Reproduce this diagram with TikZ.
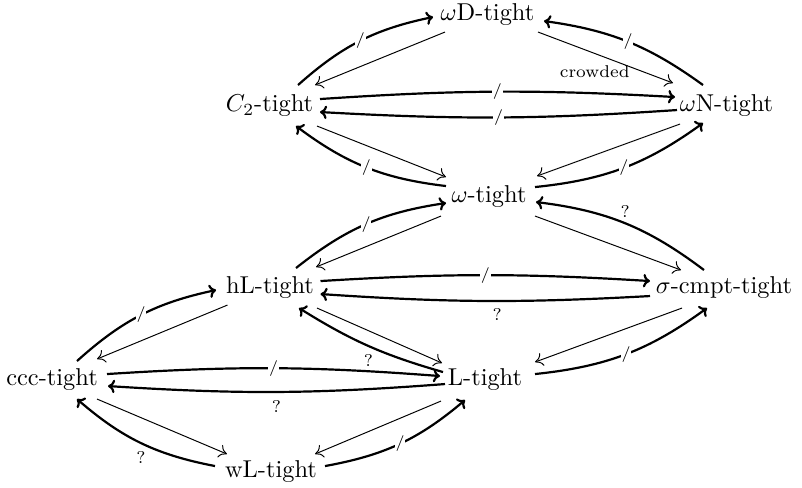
\documentclass[tikz,border=0pt]{standalone}
\usepackage{fontspec}
\usetikzlibrary{arrows.meta}
\begin{document}
\begin{tikzpicture}[x=0.41pt,y=0.41pt,
  ent/.style={inner sep=0pt,anchor=base},
  imp/.style={line width=0.4pt,-{To[length=3.2pt,width=5.5pt]}},
  nimp/.style={line width=0.9pt,-{To[length=2.8pt,width=5.5pt]}},
  sl/.style={fill=white,inner sep=0.3pt,font=\fontsize{6.5}{7}\selectfont},
  qm/.style={inner sep=0pt,font=\scriptsize}]
\useasboundingbox (0,0) rectangle (802,-488);
\node[ent] (wD) at (487.5,-21) {$\omega$D-tight};
\node[ent] (C2) at (269.5,-112) {$C_2$-tight};
\node[ent] (wN) at (726.5,-112) {$\omega$N-tight};
\node[ent] (w) at (489,-203) {$\omega$-tight};
\node[ent] (hL) at (270,-294) {hL-tight};
\node[ent] (s) at (724,-294) {$\sigma$-cmpt-tight};
\node[ent] (ccc) at (52,-386) {ccc-tight};
\node[ent] (L) at (485,-386) {L-tight};
\node[ent] (wL) at (271,-477) {wL-tight};
% upper rhombus
\draw[nimp] ([shift={(28.5,21)}]C2.center) to[bend left=15] node[sl]{/} ([shift={(-54.5,-2)}]wD.center);
\draw[imp] ([shift={(-42.5,-17)}]wD.center) -- ([shift={(45.5,21)}]C2.center);
\draw[nimp] ([shift={(-23.5,21)}]wN.center) to[bend right=14] node[sl]{/} ([shift={(56.5,-6)}]wD.center);
\draw[imp] ([shift={(50.5,-17)}]wD.center) -- node[qm,pos=0.42,below=5pt]{crowded} ([shift={(-53.5,23)}]wN.center);
\draw[nimp] ([shift={(50.5,7)}]C2.center) to[bend left=3.5] node[sl]{/} ([shift={(-51.5,9)}]wN.center);
\draw[nimp] ([shift={(-49.5,-4)}]wN.center) to[bend left=3.5] node[sl]{/} ([shift={(50.5,-6)}]C2.center);
\draw[imp] ([shift={(47.5,-20)}]C2.center) -- ([shift={(-43,20)}]w.center);
\draw[nimp] ([shift={(-43,11)}]w.center) to[bend left=15] node[sl]{/} ([shift={(26.5,-20)}]C2.center);
\draw[imp] ([shift={(-46.5,-18)}]wN.center) -- ([shift={(48,21)}]w.center);
\draw[nimp] ([shift={(46,10)}]w.center) to[bend right=15] node[sl]{/} ([shift={(-23.5,-17)}]wN.center);
% middle rhombus
\draw[nimp] ([shift={(26,20)}]hL.center) to[bend left=15] node[sl]{/} ([shift={(-43,-6)}]w.center);
\draw[imp] ([shift={(-48,-19)}]w.center) -- ([shift={(46,21)}]hL.center);
\draw[nimp] ([shift={(-20,18)}]s.center) to[bend right=15] node[qm,above=2pt]{?} ([shift={(47,-5)}]w.center);
\draw[imp] ([shift={(46,-19)}]w.center) -- ([shift={(-43,18)}]s.center);
\draw[nimp] ([shift={(50.5,7)}]hL.center) to[bend left=3.5] node[sl]{/} ([shift={(-74,7)}]s.center);
\draw[nimp] ([shift={(-74,-8)}]s.center) to[bend left=3.5] node[qm,pos=0.46,below=2.5pt]{?} ([shift={(50.5,-6)}]hL.center);
\draw[imp] ([shift={(47,-20)}]hL.center) -- ([shift={(-43,17)}]L.center);
\draw[nimp] ([shift={(-42,8)}]L.center) to[bend left=8] node[qm,below=3pt]{?} ([shift={(29,-20)}]hL.center);
\draw[imp] ([shift={(-42,-20)}]s.center) -- ([shift={(50,18)}]L.center);
\draw[nimp] ([shift={(50,6)}]L.center) to[bend right=15] node[sl]{/} ([shift={(-17,-20)}]s.center);
% lower rhombus
\draw[nimp] ([shift={(25,19)}]ccc.center) to[bend left=15] node[sl]{/} ([shift={(-54,-2)}]hL.center);
\draw[imp] ([shift={(-42.5,-17)}]hL.center) -- ([shift={(45,21)}]ccc.center);
\draw[nimp] ([shift={(55,6)}]ccc.center) to[bend left=4] node[sl]{/} ([shift={(-45,4)}]L.center);
\draw[nimp] ([shift={(-40,-4)}]L.center) to[bend left=4] node[qm,below=3pt]{?} ([shift={(56,-6)}]ccc.center);
\draw[imp] ([shift={(45,-19)}]ccc.center) -- ([shift={(-44,17)}]wL.center);
\draw[nimp] ([shift={(-56,5)}]wL.center) to[bend left=15] node[qm,below=3pt]{?} ([shift={(25,-19)}]ccc.center);
\draw[imp] ([shift={(-44,-21)}]L.center) -- ([shift={(44,17)}]wL.center);
\draw[nimp] ([shift={(54,5)}]wL.center) to[bend right=15] node[sl]{/} ([shift={(-20,-20)}]L.center);
\end{tikzpicture}
\end{document}
